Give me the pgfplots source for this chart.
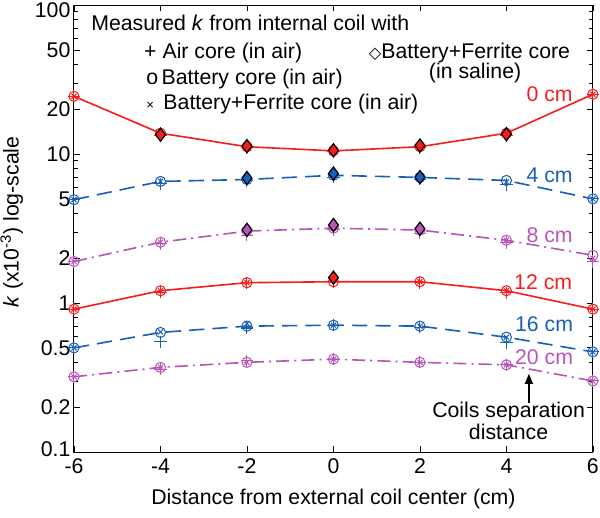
\documentclass[border=0pt]{standalone}
\usepackage{pgfplots}
\pgfplotsset{compat=1.18}
\usetikzlibrary{arrows.meta}
\usepackage{fontspec}
\setmainfont{Liberation Sans}
\newfontfamily\symfont{DejaVu Sans}
\definecolor{cred}{RGB}{245,30,30}
\definecolor{cblue}{RGB}{25,95,185}
\definecolor{cpurp}{RGB}{185,85,185}
\newcommand\fs{\fontsize{21}{25}\selectfont}
\pgfplotsset{
  ser/.style={#1, line width=1.6pt, mark=o, mark size=5pt, mark options={solid, line width=1pt}},
  plus/.style={#1, only marks, mark=+, mark size=6pt, mark options={solid, line width=1pt}},
  cross/.style={#1, only marks, mark=x, mark size=3.5pt, mark options={solid, line width=1pt}},
  dia/.style={only marks, mark=diamond*, mark size=6.5pt, mark options={draw=black, fill=#1, line width=1.2pt}},
  bdash/.style={dash pattern=on 15pt off 8pt},
  pdd/.style={dash pattern=on 13pt off 5pt on 2pt off 5pt},
}
\begin{document}
\begin{tikzpicture}
\useasboundingbox (-73pt,-65pt) rectangle (519pt,446pt);
\begin{axis}[
  at={(0,0)}, anchor=south west,
  scale only axis, width=512pt, height=441pt,
  ymode=log, xmin=-6, xmax=6, ymin=0.1, ymax=100,
  xtick={-6,-4,-2,0,2,4,6}, xticklabels={-6,-4,-2,0,2,4,6},
  ytick={0.1,0.2,0.5,1,2,5,10,20,50,100},
  yticklabels={\raisebox{-4pt}[0pt][0pt]{0.1},0.2,0.5,1,2,5,10,20,50,\raisebox{-12.5pt}[0pt][0pt]{100}},
  minor ytick={0.3,0.4,0.6,0.7,0.8,0.9,3,4,6,7,8,9,30,40,60,70,80,90},
  tick align=inside,
  major tick length=6pt, minor tick length=3.5pt,
  tick style={black, line width=0.8pt},
  axis line style={line width=1pt},
  tick label style={font=\fs},
  xticklabel style={yshift=-3pt},
  label style={font=\fs},
  xlabel={Distance from external coil center (cm)},
  ylabel={\textit{k} (x10\textsuperscript{-3}) log-scale},
  xlabel style={at={(axis description cs:0.5,-0.105)}, anchor=center},
  ylabel style={at={(axis description cs:-0.12,0.515)}, anchor=center},
  clip=false,
]
% 0 cm
\addplot[ser=cred] coordinates {(-6,24.4)(-4,13.8)(-2,11.2)(0,10.5)(2,11.2)(4,13.8)(6,25.2)};
\addplot[plus=cred] coordinates {(-6,24.4)(-4,13.3)(-2,11.0)(0,10.4)(2,11.0)(4,13.3)(6,25.2)};
\addplot[cross=cred] coordinates {(-6,24.4)(-4,13.5)(-2,11.2)(0,10.5)(2,11.2)(4,13.5)(6,25.2)};
\addplot[dia=cred] coordinates {(-4,13.5)(-2,11.3)(0,10.6)(2,11.4)(4,13.6)};
% 4 cm
\addplot[ser=cblue, bdash] coordinates {(-6,4.94)(-4,6.55)(-2,6.75)(0,7.2)(2,6.97)(4,6.65)(6,5.0)};
\addplot[plus=cblue] coordinates {(-6,4.94)(-4,6.3)(-2,6.6)(0,7.0)(2,6.8)(4,6.25)(6,5.0)};
\addplot[cross=cblue] coordinates {(-6,4.94)(-4,6.55)(-2,6.75)(0,7.2)(2,6.97)(4,6.5)(6,5.0)};
\addplot[dia=cblue] coordinates {(-2,6.9)(0,7.4)(2,7.0)};
% 8 cm
\addplot[ser=cpurp, pdd] coordinates {(-6,1.90)(-4,2.56)(-2,3.04)(0,3.18)(2,3.09)(4,2.64)(6,2.09)};
\addplot[plus=cpurp] coordinates {(-6,1.90)(-4,2.5)(-2,2.85)(0,3.1)(2,2.95)(4,2.55)(6,1.90)};
\addplot[cross=cpurp] coordinates {(-6,1.90)(-4,2.56)(-2,3.04)(0,3.18)(2,3.09)(4,2.64)(6,2.0)};
\addplot[dia=cpurp] coordinates {(-2,3.1)(0,3.34)(2,3.15)};
% 12 cm
\addplot[ser=cred] coordinates {(-6,0.91)(-4,1.21)(-2,1.37)(0,1.39)(2,1.39)(4,1.21)(6,0.91)};
\addplot[plus=cred] coordinates {(-6,0.91)(-4,1.18)(-2,1.37)(0,1.39)(2,1.37)(4,1.17)(6,0.91)};
\addplot[cross=cred] coordinates {(-6,0.91)(-4,1.21)(-2,1.37)(0,1.42)(2,1.39)(4,1.21)(6,0.91)};
\addplot[dia=cred] coordinates {(0,1.48)};
% 16 cm
\addplot[ser=cblue, bdash] coordinates {(-6,0.50)(-4,0.635)(-2,0.70)(0,0.71)(2,0.70)(4,0.59)(6,0.47)};
\addplot[plus=cblue] coordinates {(-6,0.50)(-4,0.55)(-2,0.68)(0,0.71)(2,0.69)(4,0.54)(6,0.47)};
\addplot[cross=cblue] coordinates {(-6,0.50)(-4,0.64)(-2,0.73)(0,0.71)(2,0.70)(4,0.59)(6,0.47)};
% 20 cm
\addplot[ser=cpurp, pdd] coordinates {(-6,0.32)(-4,0.37)(-2,0.40)(0,0.42)(2,0.40)(4,0.385)(6,0.30)};
\addplot[plus=cpurp] coordinates {(-6,0.32)(-4,0.36)(-2,0.41)(0,0.42)(2,0.40)(4,0.385)(6,0.30)};
\addplot[cross=cpurp] coordinates {(-6,0.32)(-4,0.37)(-2,0.40)(0,0.42)(2,0.40)(4,0.385)(6,0.30)};
% legend text
\node[anchor=west, inner sep=0pt, font=\fs] at (rel axis cs:0.033,0.959) {Measured \textit{k} from internal coil with};
\node[anchor=west, inner sep=0pt, font=\fs] at (rel axis cs:0.135,0.893) {+ Air core (in air)};
\node[anchor=west, inner sep=0pt, font=\fs] at (rel axis cs:0.139,0.834) {o\,Battery core (in air)};
\node[anchor=west, inner sep=0pt, font=\fs] at (rel axis cs:0.139,0.778) {{\fontsize{13}{13}\selectfont×}\, Battery+Ferrite core (in air)};
\node[anchor=west, inner sep=0pt, font=\fs] at (rel axis cs:0.568,0.893) {{\symfont\fontsize{16}{16}\selectfont◇}Battery+Ferrite core};
\node[anchor=center, inner sep=0pt, font=\fs] at (rel axis cs:0.773,0.848) {(in saline)};
% curve labels
\node[cred, font=\fs] at (axis cs:5,25.2) {0 cm};
\node[cblue, font=\fs] at (axis cs:5,7.2) {4 cm};
\node[cpurp, font=\fs] at (axis cs:5,2.86) {8 cm};
\node[cred, font=\fs] at (axis cs:4.85,1.37) {12 cm};
\node[cblue, font=\fs] at (axis cs:4.87,0.72) {16 cm};
\node[cpurp, font=\fs] at (axis cs:4.87,0.43) {20 cm};
\draw[black, line width=1.5pt, -{Triangle[length=10pt, width=8pt]}] (axis cs:4.52,0.215) -- (axis cs:4.52,0.335);
\node[font=\fs, align=center, inner sep=0pt] at (axis cs:4.05,0.162) {Coils separation\\[-3pt]distance};
\end{axis}
\end{tikzpicture}
\end{document}
